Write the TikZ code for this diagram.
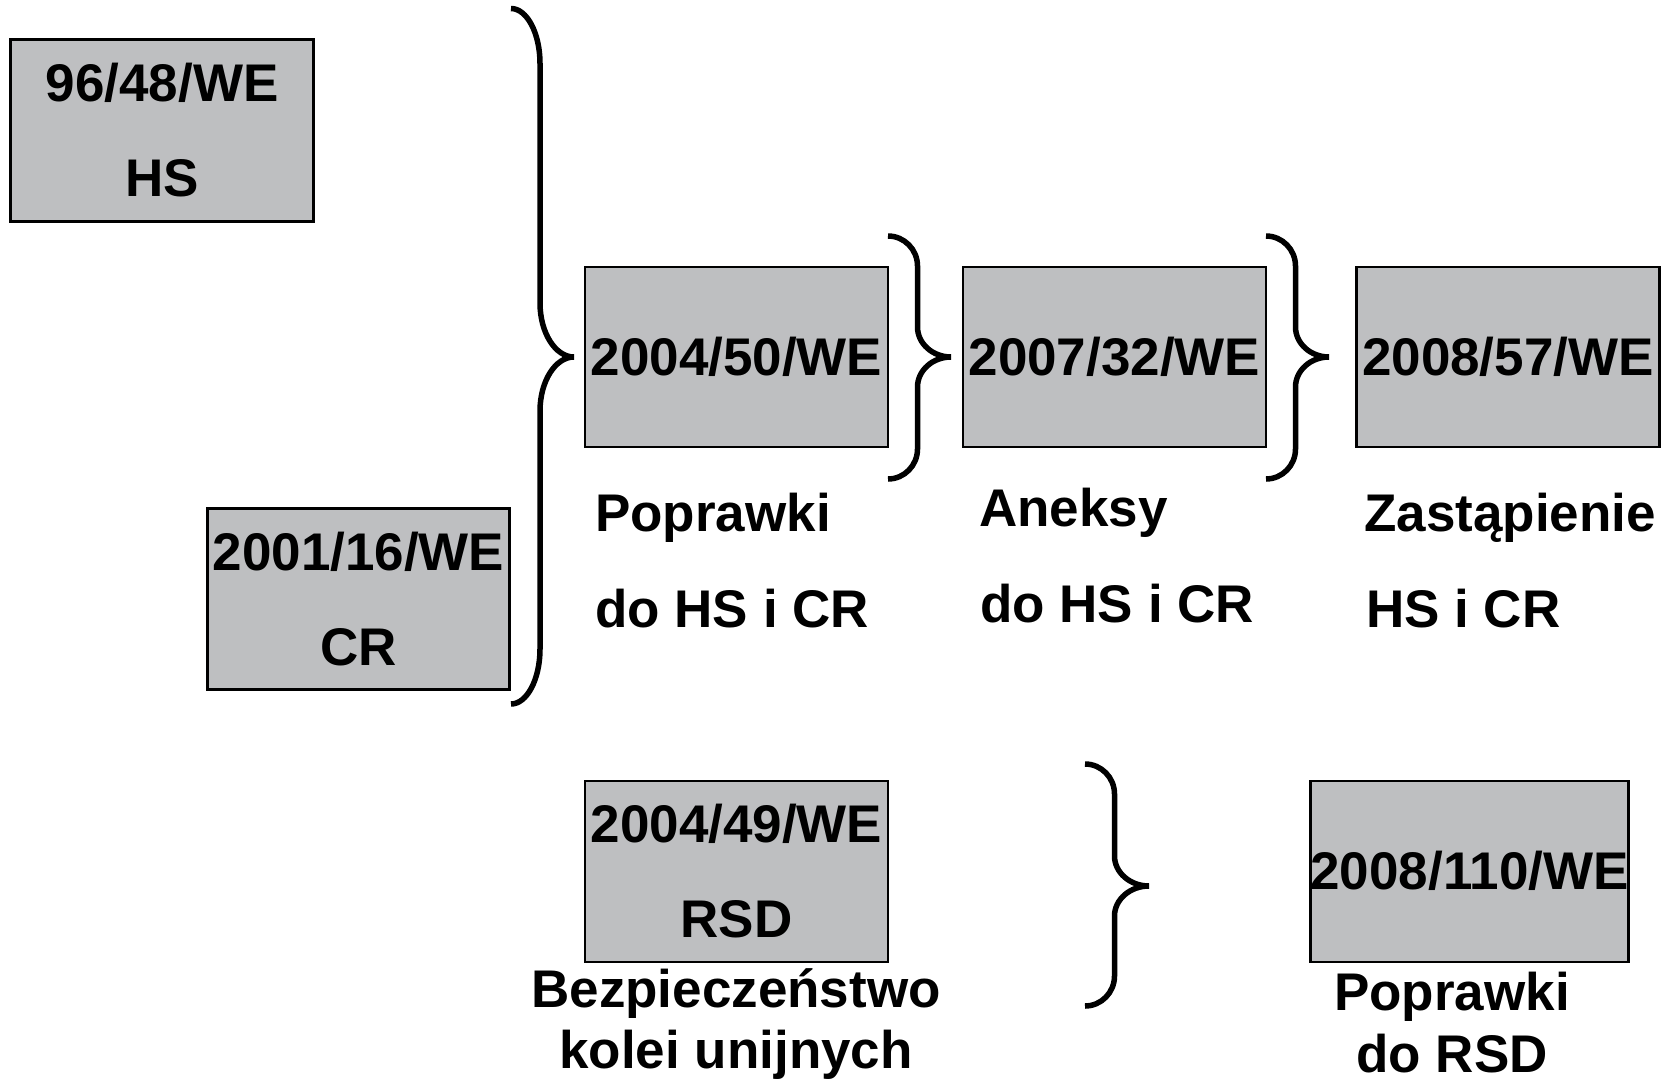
\documentclass[tikz,border=0pt]{standalone}
\usepackage{fontspec}
\setmainfont{Liberation Sans}
\definecolor{boxgray}{HTML}{BEBFC1}
% #1 end x, #2 spine x, #3 tip x, #4 top y, #5 tip y, #6 bottom y, #7 end radius, #8 tip radius
\newcommand\curlybrace[8]{%
  \draw[bracestyle] (#1,#4)
    .. controls ({#1+0.55*(#2-#1)},#4) and (#2,{#4+0.45*#7}) .. (#2,{#4+#7})
    -- (#2,{#5-#8})
    .. controls (#2,{#5-0.45*#8}) and ({#3-0.55*(#3-#2)},#5) .. (#3,#5)
    .. controls ({#3-0.55*(#3-#2)},#5) and (#2,{#5+0.45*#8}) .. (#2,{#5+#8})
    -- (#2,{#6-#7})
    .. controls (#2,{#6-0.45*#7}) and ({#1+0.55*(#2-#1)},#6) .. (#1,#6);}
\begin{document}
\begin{tikzpicture}[x=1pt,y=-1pt,
  docbox/.style={draw=black, line width=2.5pt, fill=boxgray, inner sep=0pt,
    align=center, font=\fontsize{53}{95}\selectfont\bfseries},
  lbl/.style={inner sep=0pt, font=\fontsize{53}{64}\selectfont\bfseries},
  bracestyle/.style={draw=black, line width=5.5pt}]
\useasboundingbox (0,0) rectangle (1668,1081);
% boxes
\node[docbox, minimum width=303pt, minimum height=182pt] (hs) at (162.2,130.4) {96/48/WE\\HS};
\node[docbox, minimum width=302pt, minimum height=181pt] (cr) at (358.5,599) {2001/16/WE\\CR};
\node[docbox, minimum width=303pt, minimum height=180pt] (d50) at (736.5,357) {2004/50/WE};
\node[docbox, minimum width=303pt, minimum height=180pt] (d32) at (1114.4,357) {2007/32/WE};
\node[docbox, minimum width=303pt, minimum height=180pt] (d57) at (1507.9,357) {2008/57/WE};
\node[docbox, minimum width=303pt, minimum height=181pt] (rsd) at (736.5,871.3) {2004/49/WE\\RSD};
\node[docbox, minimum width=318pt, minimum height=181pt] (d110) at (1469.6,871.3) {2008/110/WE};
% labels
\node[lbl, anchor=base west] (l1a) at (595,531) {Poprawki};
\node[lbl, anchor=base west] (l1b) at (595,627) {do HS i CR};
\node[lbl, anchor=base west] (l2a) at (979,526.6) {Aneksy};
\node[lbl, anchor=base west] (l2b) at (980,622.3) {do HS i CR};
\node[lbl, anchor=base west] (l3a) at (1364,531.9) {Zastąpienie};
\node[lbl, anchor=base west] (l3b) at (1366,627.6) {HS i CR};
\node[lbl, anchor=base] (l4a) at (736,1007) {Bezpieczeństwo};
\node[lbl, anchor=base] (l4b) at (736,1068.5) {kolei unijnych};
\node[lbl, anchor=base] (l5a) at (1452,1010) {Poprawki};
\node[lbl, anchor=base] (l5b) at (1452,1072) {do RSD};
% braces
\curlybrace{511}{540}{574}{8.5}{357}{704}{55}{54}
\curlybrace{888}{917.5}{951}{236}{357}{479}{30}{30}
\curlybrace{1266}{1295.5}{1329}{236}{357}{479}{30}{30}
\curlybrace{1085}{1114.5}{1149}{764}{886}{1006}{30}{30}
\end{tikzpicture}
\end{document}
